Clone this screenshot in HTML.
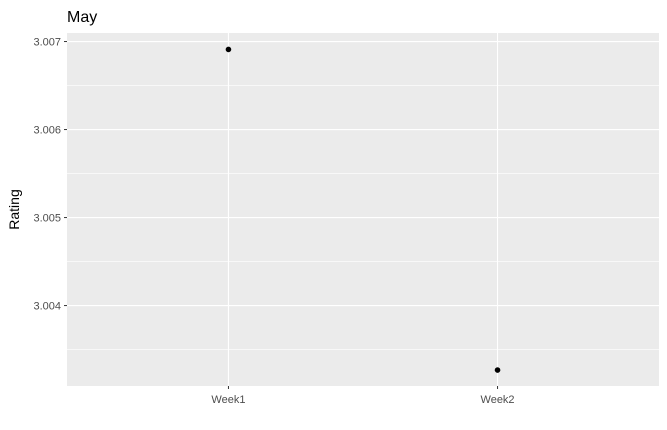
<!DOCTYPE html>
<html><head><meta charset="utf-8"><style>
body{margin:0;background:#fff;}
svg{display:block;font-family:"Liberation Sans",Arial,sans-serif;}
</style></head><body>
<svg id="chart" width="667" height="430"></svg>
<script>
const categories = ["Week1","Week2"];
const ratings = [3.00691, 3.003267];
const yTicks = [3.004, 3.005, 3.006, 3.007];
const yTickLabels = ["3.004","3.005","3.006","3.007"];

const svg = document.getElementById('chart');
const NS = 'http://www.w3.org/2000/svg';
const L=67, T=33, R=659, B=386;
const yMin=3.003086, yMax=3.007097;
const y = v => B - (v - yMin)/(yMax - yMin)*(B - T);
const x = i => L + (i + 0.6)/(categories.length + 0.2)*(R - L);
function mk(tag, attrs, parent){const e=document.createElementNS(NS,tag);for(const k in attrs)e.setAttribute(k,attrs[k]);(parent||svg).appendChild(e);return e;}

const panel = mk('rect',{x:L,y:T,width:R-L,height:B-T,fill:'#ebebeb'});



// minor gridlines
for(let i=0;i<yTicks.length+1;i++){
  const v = (i===0? yTicks[0]-0.0005 : yTicks[i-1]+0.0005);
  if(v<yMin||v>yMax) continue;
  const g = mk('line',{x1:L,x2:R,y1:y(v),y2:y(v),stroke:'#fff','stroke-width':0.6});
  
  
}
yTicks.forEach((v,i)=>{
  const g = mk('line',{x1:L,x2:R,y1:y(v),y2:y(v),stroke:'#fff','stroke-width':1.1});
  
  
  const t = mk('line',{x1:L-3,x2:L,y1:y(v),y2:y(v),stroke:'#333','stroke-width':1});
  
  
  const lb = mk('text',{x:L-6,y:y(v)+4,'text-anchor':'end','font-size':11,fill:'#4d4d4d'});
  lb.textContent = yTickLabels[i];
  
  
});
categories.forEach((c,i)=>{
  const g = mk('line',{x1:x(i),x2:x(i),y1:T,y2:B,stroke:'#fff','stroke-width':1.1});
  
  
  const t = mk('line',{x1:x(i),x2:x(i),y1:B,y2:B+3,stroke:'#333','stroke-width':1});
  
  
  const lb = mk('text',{x:x(i),y:B+17,'text-anchor':'middle','font-size':11,fill:'#4d4d4d'});
  lb.textContent = c;
  
  
});
ratings.forEach((v,i)=>{
  const p = mk('circle',{cx:x(i),cy:y(v),r:2.8,fill:'#000'});
  
  
});
const yt = mk('text',{x:0,y:0,'text-anchor':'middle','font-size':14,fill:'#000',transform:'translate(19,'+((T+B)/2)+') rotate(-90)'});
yt.textContent='Rating';


const title = mk('text',{x:L,y:22,'font-size':16,fill:'#000'});
title.textContent='May';


</script>
</body></html>
